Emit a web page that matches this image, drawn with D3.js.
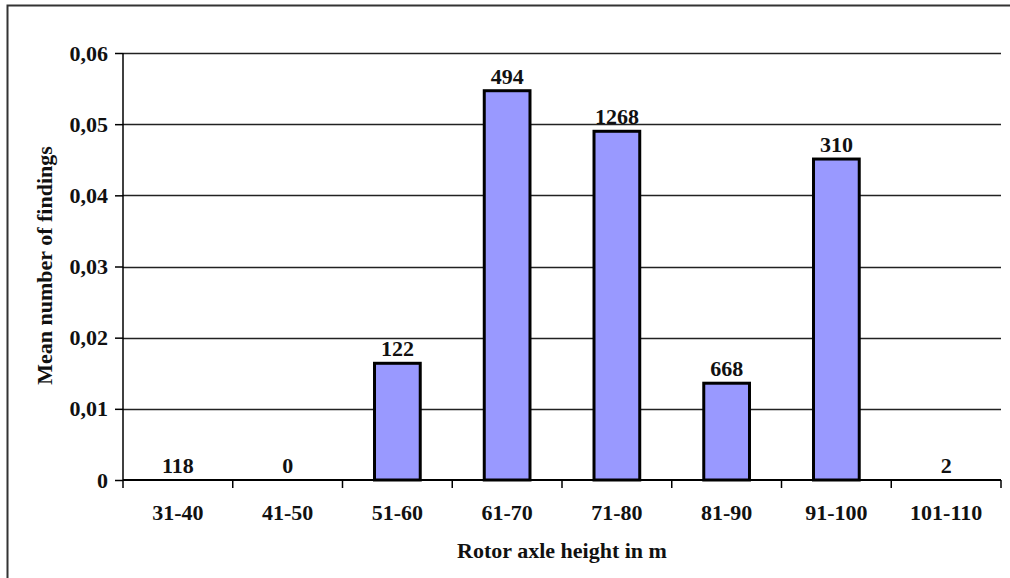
<!DOCTYPE html>
<html>
<head>
<meta charset="utf-8">
<script src="https://cdn.jsdelivr.net/npm/d3@7"></script>
<style>
  body { margin: 0; background: #fff; }
  svg text { font-family: "Liberation Serif", "DejaVu Serif", serif; font-weight: bold; fill: #111; }
</style>
</head>
<body>
<script>
var categories = ["31-40", "41-50", "51-60", "61-70", "71-80", "81-90", "91-100", "101-110"];
var means = [0, 0, 0.0164, 0.0547, 0.0490, 0.0136, 0.0451, 0];
var counts = ["118", "0", "122", "494", "1268", "668", "310", "2"];
var yTicks = [0, 0.01, 0.02, 0.03, 0.04, 0.05, 0.06];

var W = 1010, H = 578;
var margin = {top: 53, right: 9, bottom: 98, left: 123},
    width = W - margin.left - margin.right,
    height = H - margin.top - margin.bottom;
var serif = "'Liberation Serif', 'DejaVu Serif', serif";
var fs = "22px";

var svg = d3.select("body").append("svg")
    .attr("width", W)
    .attr("height", H);

// outer frame (only top and left edges are visible in the picture)
svg.append("path")
    .attr("d", "M7.5," + H + "V5.5H" + W)
    .attr("fill", "none")
    .attr("stroke", "#333")
    .attr("stroke-width", 2);

var g = svg.append("g")
    .attr("transform", "translate(" + margin.left + "," + margin.top + ")");

var x = d3.scaleBand()
    .domain(categories)
    .range([0, width]);
var y = d3.scaleLinear()
    .domain([0, 0.06])
    .range([height, 0]);

var rows = categories.map(function(c, i) { return {cat: c, val: means[i], n: counts[i]}; });

// gridlines
g.selectAll(".grid")
    .data(yTicks.slice(1))
  .enter().append("line")
    .attr("x1", 0)
    .attr("x2", width)
    .attr("y1", function(d) { return Math.round(y(d)) + 0.5; })
    .attr("y2", function(d) { return Math.round(y(d)) + 0.5; })
    .attr("stroke", "#222")
    .attr("stroke-width", 1.3);

// bars
var bw = x.bandwidth() / 2.4;
g.selectAll(".bar")
    .data(rows.filter(function(d) { return d.val > 0; }))
  .enter().append("rect")
    .attr("class", "bar")
    .attr("x", function(d) { return x(d.cat) + (x.bandwidth() - bw) / 2; })
    .attr("y", function(d) { return y(d.val); })
    .attr("width", bw)
    .attr("height", function(d) { return height - y(d.val); })
    .attr("fill", "#9999FF")
    .attr("stroke", "#000")
    .attr("stroke-width", 3);

// value labels
g.selectAll(".lbl")
    .data(rows)
  .enter().append("text")
    .attr("x", function(d) { return x(d.cat) + x.bandwidth() / 2; })
    .attr("y", function(d) { return y(d.val) - 7; })
    .attr("text-anchor", "middle")
    .attr("font-family", serif)
    .style("font-size", fs)
    .text(function(d) { return d.n; });

// y axis
var yAxis = g.append("g")
    .call(d3.axisLeft(y).tickValues(yTicks).tickSize(8).tickPadding(7)
      .tickFormat(function(d) { return d === 0 ? "0" : d3.format(".2f")(d).replace(".", ","); }));
yAxis.attr("font-family", serif);
yAxis.select(".domain").attr("stroke", "#000").attr("stroke-width", 1.5).attr("d", "M0," + height + "V0");
yAxis.selectAll(".tick line").attr("stroke", "#000").attr("stroke-width", 1.5);
yAxis.selectAll("text").style("font-size", fs);

// x axis
var xAxis = g.append("g")
    .attr("transform", "translate(0," + height + ")")
    .call(d3.axisBottom(x).tickSize(0).tickPadding(24));
xAxis.attr("font-family", serif);
xAxis.select(".domain").attr("stroke", "#000").attr("stroke-width", 2).attr("d", "M0,0H" + width);
xAxis.selectAll("text").style("font-size", fs);
xAxis.selectAll(".bnd")
    .data(d3.range(categories.length + 1))
  .enter().append("line")
    .attr("x1", function(i) { return i * x.step(); })
    .attr("x2", function(i) { return i * x.step(); })
    .attr("y1", 0)
    .attr("y2", 8)
    .attr("stroke", "#000")
    .attr("stroke-width", 1.5);

// axis titles
svg.append("text")
    .attr("transform", "translate(52," + (margin.top + height / 2 - 1) + ") rotate(-90)")
    .attr("text-anchor", "middle")
    .attr("font-family", serif)
    .style("font-size", fs)
    .text("Mean number of findings");

svg.append("text")
    .attr("x", margin.left + width / 2)
    .attr("y", 558)
    .attr("text-anchor", "middle")
    .attr("font-family", serif)
    .style("font-size", fs)
    .text("Rotor axle height in m");
</script>
</body>
</html>
